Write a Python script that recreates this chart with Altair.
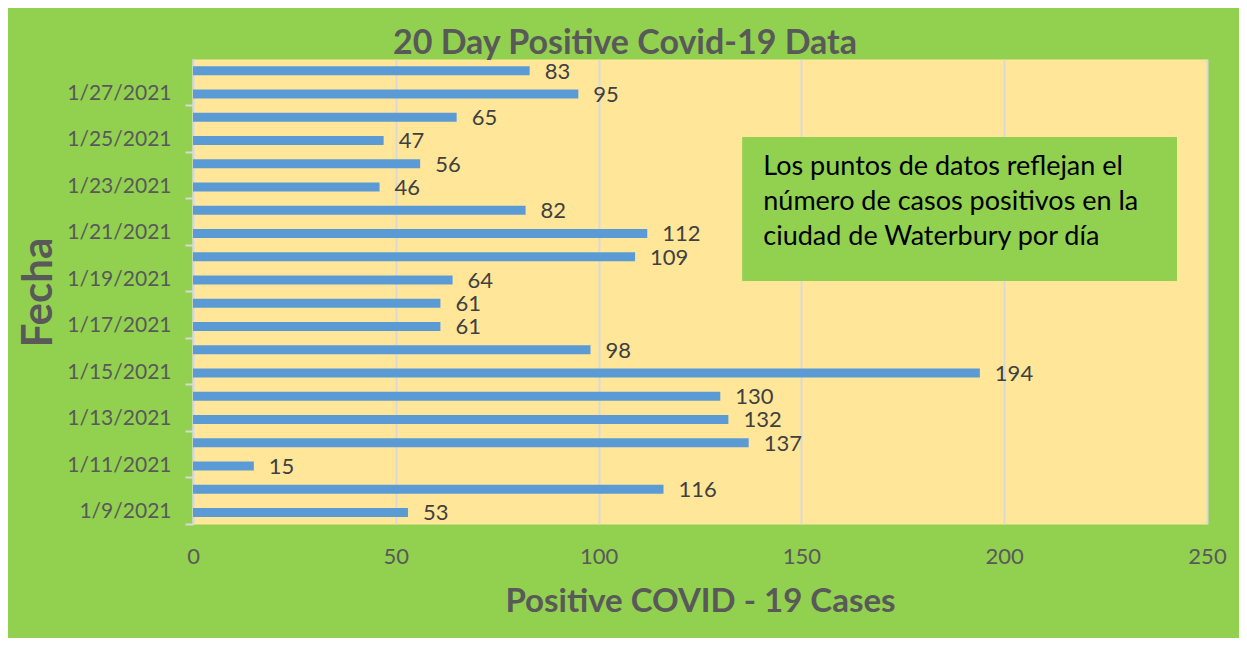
import altair as alt
import pandas as pd

# Dates, top of chart first
dates = ["1/28/2021", "1/27/2021", "1/26/2021", "1/25/2021", "1/24/2021",
         "1/23/2021", "1/22/2021", "1/21/2021", "1/20/2021", "1/19/2021",
         "1/18/2021", "1/17/2021", "1/16/2021", "1/15/2021", "1/14/2021",
         "1/13/2021", "1/12/2021", "1/11/2021", "1/10/2021", "1/9/2021"]
cases = [83, 95, 65, 47, 56, 46, 82, 112, 109, 64,
         61, 61, 98, 194, 130, 132, 137, 15, 116, 53]
label_dates = ["1/27/2021", "1/25/2021", "1/23/2021", "1/21/2021", "1/19/2021",
               "1/17/2021", "1/15/2021", "1/13/2021", "1/11/2021", "1/9/2021"]
x_ticks = [0, 50, 100, 150, 200, 250]

title_text = "20 Day Positive Covid-19 Data"
x_title = "Positive COVID - 19 Cases"
y_title = "Fecha"
note_lines = ["Los puntos de datos reflejan el",
              "número de casos positivos en la",
              "ciudad de Waterbury por día"]
note_x = [135.4, 242.6]
note_text_x = 140.6

df = pd.DataFrame({"date": dates, "cases": cases})

FONT = "Lato"
GRAY = "#595959"
LIGHT = "#D9D9D9"

x_enc = alt.X(
    "cases:Q",
    scale=alt.Scale(domain=[0, 250], nice=False),
    axis=alt.Axis(
        title=x_title, values=x_ticks, grid=True, gridColor=LIGHT, gridWidth=2,
        domain=False, ticks=False, tickSize=0, labelFlush=False,
        labelFont=FONT, labelFontSize=22, labelColor=GRAY,
        labelPadding=39, labelBaseline="alphabetic",
        titleFont=FONT, titleFontSize=33, titleFontWeight="bold", titleColor=GRAY,
        titleY=87, titleBaseline="alphabetic",
    ),
)
y_enc = alt.Y(
    "date:N",
    sort=dates,
    scale=alt.Scale(paddingInner=0, paddingOuter=0),
    axis=alt.Axis(
        title=y_title, values=label_dates, bandPosition=1,
        tickSize=8, tickColor=LIGHT, tickWidth=2,
        domainColor=LIGHT, domainWidth=2,
        labelFont=FONT, labelFontSize=21, labelColor=GRAY, labelPadding=14,
        titleFont=FONT, titleFontSize=42, titleFontWeight="bold", titleColor=GRAY,
        titleAngle=270, titleX=-142, titleY=233, titleBaseline="alphabetic",
        titleAlign="center",
    ),
)

base = alt.Chart(df)
bars = base.mark_bar(color="#5B9BD5", size=9).encode(x=x_enc, y=y_enc)
labels = base.mark_text(align="left", baseline="middle", dx=15, dy=1,
                        font=FONT, fontSize=22, color="#404040").encode(
    x="cases:Q", y=alt.Y("date:N", sort=dates), text="cases:Q")

box = alt.Chart(pd.DataFrame({"x0": [note_x[0]], "x1": [note_x[1]]})).mark_rect(
    color="#92D050").encode(
    x="x0:Q", x2="x1:Q", y=alt.value(78), y2=alt.value(222))
note = alt.Chart(pd.DataFrame({"x": [note_text_x]})).mark_text(
    text=note_lines, align="left", baseline="alphabetic", lineHeight=35,
    font=FONT, fontSize=27, color="#000000").encode(
    x="x:Q", y=alt.value(116))

chart = alt.layer(bars, labels, box, note).properties(
    width=1014, height=465,
    padding={"left": 185, "top": 51, "right": 32, "bottom": 114},
    autosize=alt.AutoSizeParams(type="none"),
    background="#92D050",
    title=alt.Title(title_text, font=FONT, fontSize=34, fontWeight="bold",
                    color=GRAY, anchor="middle", dx=-75, dy=33, offset=4,
                    baseline="alphabetic"),
).configure_view(fill="#FFE699", stroke="transparent")

chart.save("out.html", embed_options={"renderer": "svg", "actions": False})
